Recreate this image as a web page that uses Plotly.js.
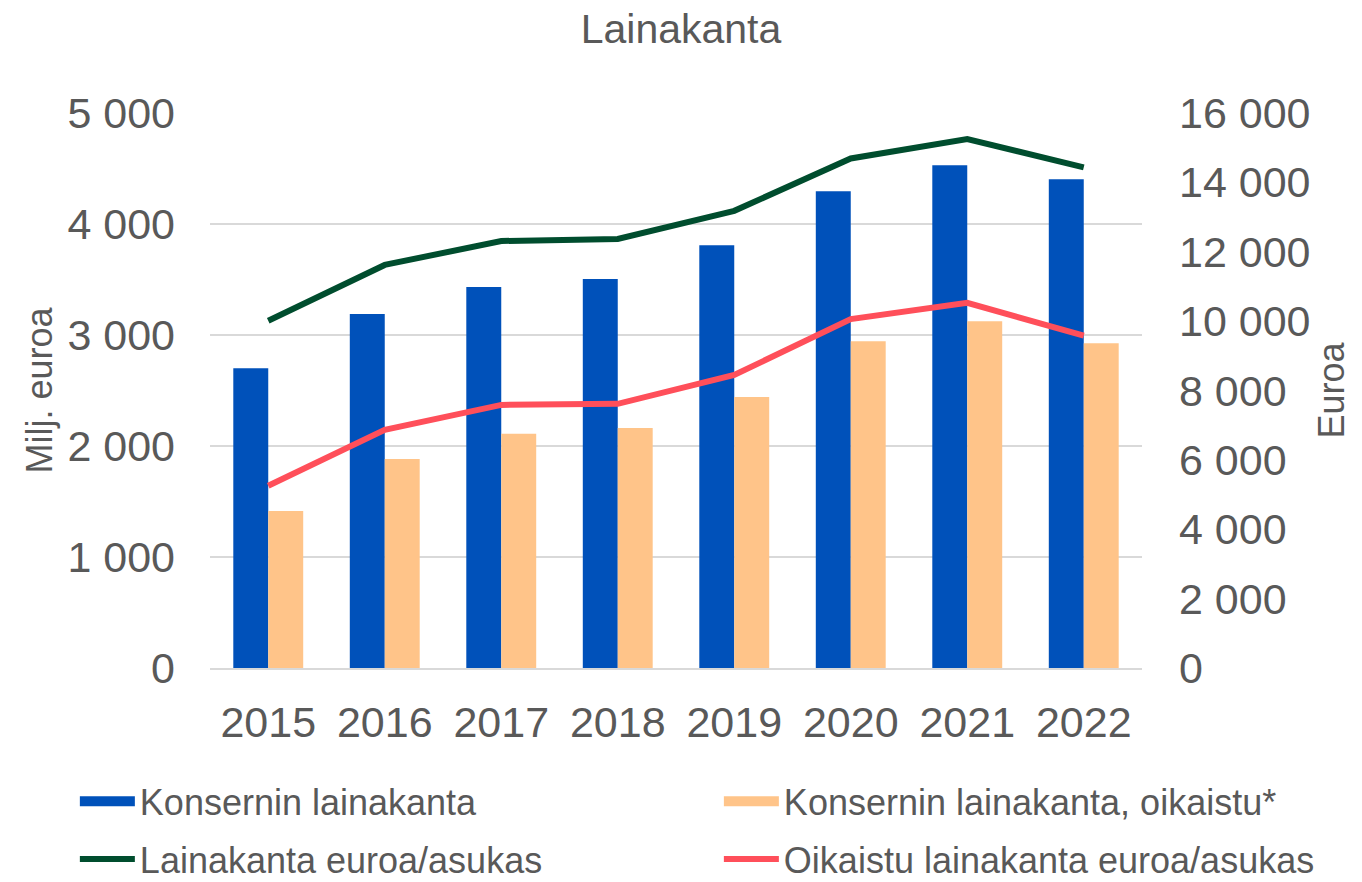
<!DOCTYPE html>
<html>
<head>
<meta charset="utf-8">
<script src="https://cdn.plot.ly/plotly-3.0.1.min.js"></script>
<style>html,body{margin:0;padding:0;background:#fff;}#chart{width:1362px;height:882px;}</style>
</head>
<body>
<div id="chart"></div>
<script>
const years = ['2015','2016','2017','2018','2019','2020','2021','2022'];
const konserninLainakanta = [2700, 3190, 3432, 3505, 3808, 4295, 4530, 4403];
const konserninOikaistu = [1414, 1882, 2110, 2163, 2441, 2943, 3123, 2925];
const lainakantaAsukas = [10010, 11620, 12310, 12370, 13180, 14690, 15250, 14430];
const oikaistuAsukas = [5255, 6865, 7585, 7615, 8446, 10060, 10530, 9580];

const seriesNames = ['Konsernin lainakanta', 'Konsernin lainakanta, oikaistu*', 'Lainakanta euroa/asukas', 'Oikaistu lainakanta euroa/asukas'];
const seriesColors = ['#0051BA', '#FFC489', '#004D2E', '#FF4F5A'];

const FONT = 'Liberation Sans, Arial, sans-serif';
const GREY = '#595959';

const traces = [
  {type:'bar', name:seriesNames[0], x:years, y:konserninLainakanta, marker:{color:seriesColors[0]}, yaxis:'y', showlegend:false},
  {type:'bar', name:seriesNames[1], x:years, y:konserninOikaistu, marker:{color:seriesColors[1]}, yaxis:'y', showlegend:false},
  {type:'scatter', mode:'lines', name:seriesNames[2], x:years, y:lainakantaAsukas, line:{color:seriesColors[2], width:6}, yaxis:'y2', legend:'legend', legendgroup:'c', legendrank:2},
  {type:'scatter', mode:'lines', name:seriesNames[3], x:years, y:oikaistuAsukas, line:{color:seriesColors[3], width:6}, yaxis:'y2', legend:'legend2', legendgroup:'d', legendrank:2},
  // legend keys for the bar series (wide rectangles like the original)
  {type:'scatter', mode:'lines', name:seriesNames[0], x:[null], y:[null], line:{color:seriesColors[0], width:18}, yaxis:'y', legend:'legend', legendgroup:'a', legendrank:1, hoverinfo:'skip'},
  {type:'scatter', mode:'lines', name:seriesNames[1], x:[null], y:[null], line:{color:seriesColors[1], width:18}, yaxis:'y', legend:'legend2', legendgroup:'b', legendrank:1, hoverinfo:'skip'}
];

const legendBase = {orientation:'v', xanchor:'left', yanchor:'top', y:-0.186, font:{size:36, color:GREY}, traceorder:'grouped', tracegroupgap:8, itemwidth:55, bgcolor:'rgba(0,0,0,0)', borderwidth:0};

const layout = {
  width:1362, height:882,
  margin:{l:210, r:220, t:113, b:214, autoexpand:false},
  paper_bgcolor:'#fff', plot_bgcolor:'#fff',
  separators:', ',
  font:{family:FONT, color:GREY},
  title:{text:'Lainakanta', font:{family:FONT, size:41, color:GREY}, x:0.5, xanchor:'center', y:0.968, yanchor:'middle'},
  barmode:'group', bargap:0.4, bargroupgap:0,
  xaxis:{type:'category', tickfont:{size:43, color:GREY}, showgrid:false, showline:true, linecolor:'#D9D9D9', linewidth:2, ticks:'', ticklabelstandoff:15},
  yaxis:{range:[0,5000], dtick:1000, tickformat:',d', tickfont:{size:43, color:GREY}, gridcolor:'#D9D9D9', gridwidth:2, zeroline:false, ticks:'', ticklabelstandoff:34,
    title:{text:'Milj. euroa', font:{size:36, color:GREY}, standoff:3}},
  yaxis2:{range:[0,16000], dtick:2000, tickformat:',d', overlaying:'y', side:'right', showgrid:false, zeroline:false, tickfont:{size:43, color:GREY}, ticks:'', ticklabelstandoff:36,
    title:{text:'Euroa', font:{size:36, color:GREY}, standoff:0}},
  showlegend:true,
  legend:Object.assign({}, legendBase, {x:-0.145}),
  legend2:Object.assign({}, legendBase, {x:0.546})
};

Plotly.newPlot('chart', traces, layout, {displayModeBar:false, staticPlot:true});
</script>
</body>
</html>
